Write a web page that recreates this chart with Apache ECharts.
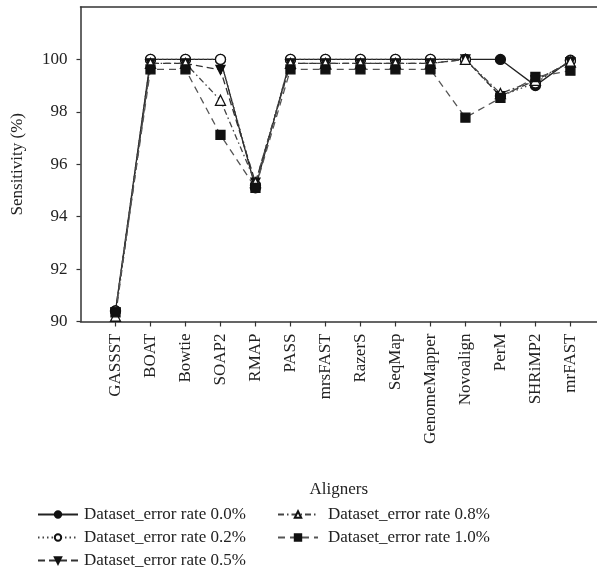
<!DOCTYPE html>
<html>
<head>
<meta charset="utf-8">
<script src="https://cdn.jsdelivr.net/npm/echarts@6/dist/echarts.min.js"></script>
<style>
html,body{margin:0;padding:0;background:#fff;}
#chart{width:597px;height:575px;}
</style>
</head>
<body>
<div id="chart"></div>
<script>
const categories = ['GASSST','BOAT','Bowtie','SOAP2','RMAP','PASS','mrsFAST','RazerS','SeqMap','GenomeMapper','Novoalign','PerM','SHRiMP2','mrFAST'];
const rate00 = [90.4, 100, 100, 100, 95.1, 100, 100, 100, 100, 100, 100, 100, 99.0, 99.97];
const rate02 = [90.4, 100, 100, 100, 95.2, 100, 100, 100, 100, 100, 100, 98.6, 99.1, 99.95];
const rate05 = [90.35, 99.85, 99.85, 99.6, 95.3, 99.85, 99.85, 99.85, 99.85, 99.85, 100, 98.6, 99.2, 99.9];
const rate08 = [90.2, 99.85, 99.85, 98.44, 95.3, 99.85, 99.85, 99.85, 99.85, 99.85, 100, 98.7, 99.2, 99.9];
const rate10 = [90.35, 99.62, 99.62, 97.12, 95.1, 99.62, 99.62, 99.62, 99.62, 99.62, 97.78, 98.53, 99.33, 99.57];
const seriesNames = ['Dataset_error rate 0.0%','Dataset_error rate 0.2%','Dataset_error rate 0.5%','Dataset_error rate 0.8%','Dataset_error rate 1.0%'];
const yTicks = [90, 92, 94, 96, 98, 100];
const xTicks = categories.map((c, i) => i);

const FONT = 'Liberation Serif';
const pts = arr => arr.map((v, i) => [i, v]);

const chart = echarts.init(document.getElementById('chart'), null, {renderer: 'canvas'});
const mk = (name, data, symbol, fill, lineType, color, size) => ({
  name, type: 'line', data: pts(data), symbol, symbolSize: size,
  showSymbol: true,
  lineStyle: {color: color, width: 1.3, type: lineType},
  itemStyle: {color: fill, borderColor: '#111', borderWidth: 1.3},
  emphasis: {disabled: true},
  animation: false, z: 3
});
const option = {
  backgroundColor: '#fff',
  animation: false,
  textStyle: {fontFamily: FONT},
  grid: {left: 80.5, top: 7, right: 0, bottom: 253.5, containLabel: false},
  xAxis: [{
    type: 'value', min: -1, max: 13.76, interval: 1,
    name: 'Aligners', nameLocation: 'middle', nameGap: 160,
    nameTextStyle: {fontFamily: FONT, fontSize: 17, color: '#222'},
    axisLine: {show: true, onZero: false, lineStyle: {color: '#333', width: 1.5}},
    axisTick: {show: true, length: 5, customValues: xTicks, lineStyle: {color: '#333', width: 1.2}},
    splitLine: {show: false},
    axisLabel: {
      rotate: 90, margin: 12, fontFamily: FONT, fontSize: 17, color: '#222',
      customValues: xTicks,
      formatter: v => (Number.isInteger(v) && v >= 0 && v < categories.length) ? categories[v] : ''
    }
  }, {
    type: 'value', position: 'top', min: -1, max: 13.76,
    axisLine: {show: true, onZero: false, lineStyle: {color: '#333', width: 1.5}},
    axisTick: {show: false}, axisLabel: {show: false}, splitLine: {show: false}
  }],
  yAxis: {
    type: 'value', min: 90, max: 102, interval: 2,
    name: 'Sensitivity (%)', nameLocation: 'middle', nameGap: 54, nameRotate: 90,
    nameTextStyle: {fontFamily: FONT, fontSize: 17, color: '#222'},
    axisLine: {show: true, onZero: false, lineStyle: {color: '#333', width: 1.5}},
    axisTick: {show: true, inside: false, length: 4, customValues: yTicks, lineStyle: {color: '#333', width: 1.2}},
    splitLine: {show: false},
    axisLabel: {margin: 13, fontFamily: FONT, fontSize: 17, color: '#222',
      customValues: yTicks,
      formatter: v => yTicks.includes(v) ? String(v) : ''}
  },
  legend: [{
    orient: 'vertical', left: 32, top: 501, itemGap: 6, itemWidth: 40, itemHeight: 8,
    data: seriesNames.slice(0, 3),
    textStyle: {fontFamily: FONT, fontSize: 17, color: '#222', padding: [0,0,0,1]}
  }, {
    orient: 'vertical', left: 272, top: 501, itemGap: 6, itemWidth: 40, itemHeight: 8,
    data: seriesNames.slice(3),
    textStyle: {fontFamily: FONT, fontSize: 17, color: '#222', padding: [0,0,0,5]}
  }],
  series: [
    mk(seriesNames[0], rate00, 'circle', '#111', 'solid', '#222', 10),
    mk(seriesNames[1], rate02, 'circle', '#fff', [1.5, 3], '#444', 10),
    mk(seriesNames[2], rate05, 'path://M0,0 L10,0 L5,9 Z', '#111', [7, 4], '#333', 9),
    mk(seriesNames[3], rate08, 'triangle', '#fff', [6, 3, 1.5, 3], '#444', 10),
    mk(seriesNames[4], rate10, 'rect', '#111', [7, 5], '#555', 9)
  ]
};
chart.setOption(option);
</script>
</body>
</html>
